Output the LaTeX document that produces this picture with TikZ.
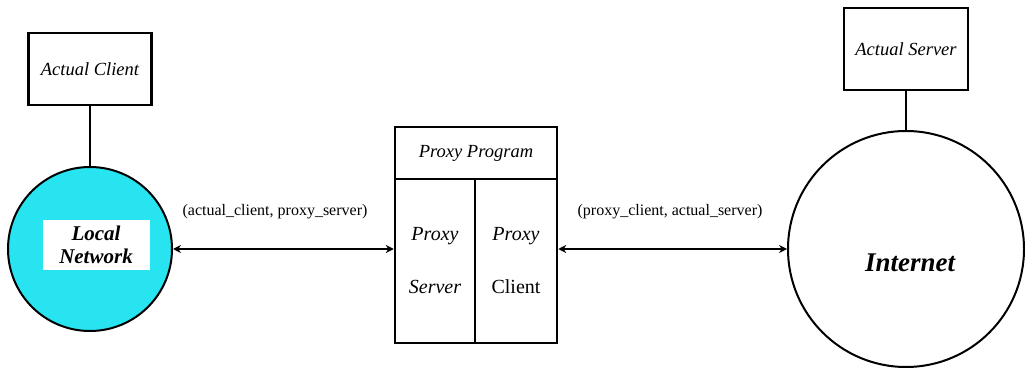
\documentclass[tikz,border=0pt]{standalone}
\usepackage{fontspec}
\setmainfont{Liberation Serif}
\usetikzlibrary{arrows.meta}
\definecolor{lancyan}{RGB}{40,228,240}
\tikzset{
	box/.style={draw, line width=2.5pt, inner sep=0pt, font=\fontsize{18.5}{20}\selectfont\itshape},
	net/.style={draw, circle, line width=2pt, inner sep=0pt},
	link/.style={line width=2.5pt},
	conn/.style={line width=1.4pt, {Stealth[length=8pt,width=8pt]}-{Stealth[length=8pt,width=8pt]}},
	tag/.style={font=\fontsize{16}{18}\selectfont}
}
\begin{document}
\begin{tikzpicture}[x=1pt, y=-1pt]
	\useasboundingbox (0,0) rectangle (1025,371);
	
	\node[box, minimum width=123pt, minimum height=72pt] (client) at (90,69) {Actual Client};
	\node[box, minimum width=124pt, minimum height=82pt] (server) at (906,49) {Actual Server};
	
	\node[net, fill=lancyan, minimum size=164pt] (lan) at (90,249) {};
	\node[net, minimum size=236pt] (inet) at (906,249) {};
	
	\node[fill=white, minimum width=107pt, minimum height=50pt, align=center, font=\fontsize{21}{23}\selectfont\bfseries\itshape] (lanlabel) at (96,245) {Local\\Network};
	\node[font=\fontsize{27}{29}\selectfont\bfseries\itshape] (inetlabel) at (910,263) {Internet};
	
	\node[box, minimum width=162pt, minimum height=52pt] (prog) at (476,153) {Proxy Program};
	\node[box, minimum width=80pt, minimum height=164pt, align=center, font=\fontsize{20}{53}\selectfont\itshape] (pserver) at (435,261) {Proxy\\Server};
	\node[box, minimum width=82pt, minimum height=164pt, align=center, font=\fontsize{20}{53}\selectfont] (pclient) at (516,261) {\textit{Proxy}\\Client};
	
	\draw[link] (client.south) -- (lan.north);
	\draw[link] (server.south) -- (inet.north);
	
	\draw[conn] (lan.east) -- (lan.east -| pserver.west);
	\draw[conn] (inet.west -| pclient.east) -- (inet.west);
	
	\node[tag] (lefttag) at (275,212) {(actual\_client, proxy\_server)};
	\node[tag] (righttag) at (670,212) {(proxy\_client, actual\_server)};
\end{tikzpicture}
\end{document}
